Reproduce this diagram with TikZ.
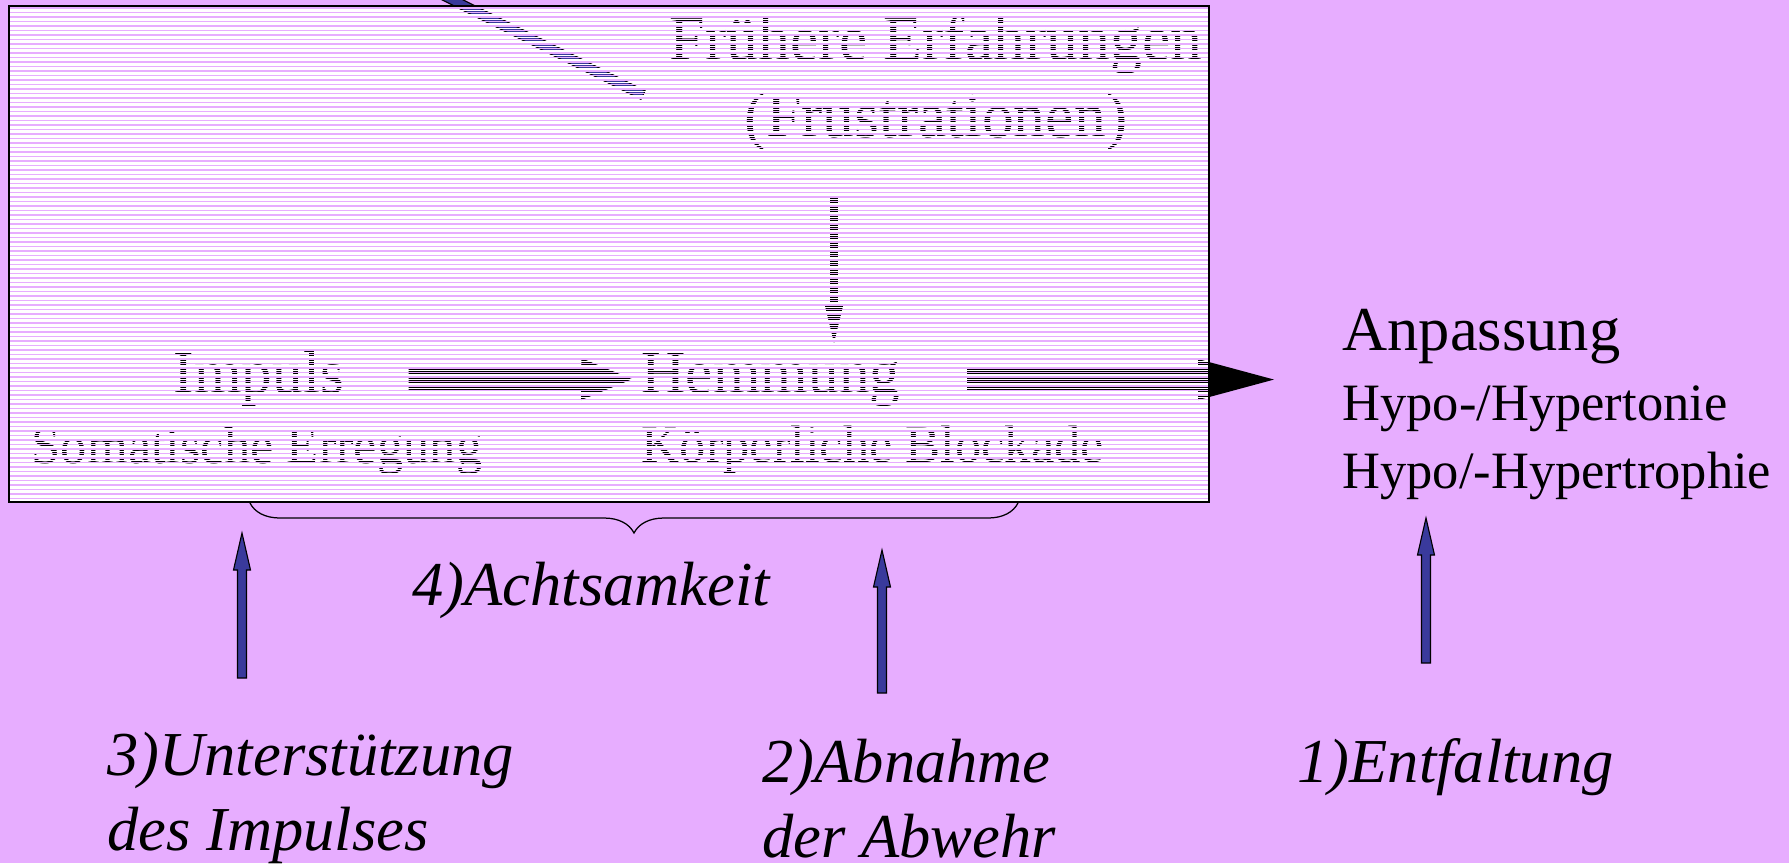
\documentclass[tikz,border=0pt]{standalone}
\usepackage{fontspec}
\setmainfont{Liberation Serif}
\usetikzlibrary{positioning}
\usetikzlibrary{arrows.meta}
\usetikzlibrary{decorations.pathreplacing}

\definecolor{bgpink}{RGB}{231,173,255}
\definecolor{arrowblue}{RGB}{58,58,156}

\tikzset{
    pics/upblue/.style={code={
        \filldraw[fill=arrowblue,draw=black,line width=0.45pt]
            (-4.5,0) -- (-4.5,-#1+37) -- (-8.5,-#1+37) -- (0,-#1)
            -- (8.5,-#1+37) -- (4.5,-#1+37) -- (4.5,0) -- cycle;
    }}
}

\begin{document}
\begin{tikzpicture}[x=0.4pt,y=-0.4pt,
        big/.style={inner sep=0pt,font=\fontsize{24.5}{29}\selectfont},
        small/.style={inner sep=0pt,font=\fontsize{21}{25}\selectfont},
        lbl/.style={inner sep=0pt,align=left,anchor=base west,font=\fontsize{25}{30}\selectfont\itshape},
        side/.style={inner sep=0pt,anchor=base west}]

            \path[use as bounding box,fill=bgpink] (0,0) rectangle (1789,863);
            \clip (0,0) rectangle (1789,863);
            \fill[white] (9,6) rectangle (1209,502);

            \path   (936,60)  node (fre) [big,anchor=base,font=\fontsize{25.5}{30}\selectfont] {Frühere Erfahrungen}
                    (936,137) node (fru) [big,anchor=base,font=\fontsize{25.5}{30}\selectfont] {(Frustrationen)}
                    (259,393) node (imp) [big,anchor=base] {Impuls}
                    (771,393) node (hem) [big,anchor=base] {Hemmung}
                    (257,463) node (som) [small,anchor=base] {Somatische Erregung}
                    (873,462) node (kor) [small,anchor=base] {Körperliche Blockade};

            \path   (1342,350) node (anp) [side,font=\fontsize{25}{30}\selectfont] {Anpassung}
                    (1342,420) node (ton) [side,small] {Hypo-/Hypertonie}
                    (1342,488) node (tro) [side,small] {Hypo/-Hypertrophie};

            \coordinate (d1) at (834,197);
            \coordinate (d2) at (834,343);

            \draw[arrows = -{Triangle[length=20.4pt,width=16.8pt,line width=0pt]},line width=9.2pt,shorten <=25.6pt,shorten >=3.6pt] (node cs: name =imp) -- (node cs: name =hem);
            \draw[arrows = -{Triangle[length=30.4pt,width=16.4pt,line width=0pt]},line width=9.2pt,shorten <=26.4pt,shorten >=27.2pt] (hem.east) -- (hem.east -| anp.west);
            \draw[arrows = -{Triangle[length=14.8pt,width=7.2pt,line width=0pt]},line width=3.2pt] (d1) -- (d2);

            \filldraw[fill=arrowblue,draw=black,line width=0.45pt] (645.1,90.8) -- (640.9,99.2) -- (408.5,-17) -- (412.7,-25.4) -- cycle;

            % stripes over the box
            \begin{scope}
                \clip (9,6) rectangle (1209,502);
                \foreach \k in {0,...,110} {
                    \draw[bgpink,line width=0.6pt] (9,8+4.5*\k) -- (1209,8+4.5*\k);
                    \draw[white,line width=0.6pt] (9,10.25+4.5*\k) -- (1209,10.25+4.5*\k);
                }
            \end{scope}
            \draw[line width=0.7pt] (9,6) rectangle (1209,502);

            \draw[decorate,decoration={brace,mirror,amplitude=12pt},line width=0.5pt] (250,503) -- (1018,503);

            % two-line labels sit on the baseline of their last line
            \path   (412,605)  node (ach) [lbl] {4)Achtsamkeit}
                    (107,850)  node (l3) [lbl] {3)Unterstützung\\des Impulses}
                    (762,857)  node (l2) [lbl] {2)Abnahme\\der Abwehr}
                    (1297,782) node (l1) [lbl] {1)Entfaltung};

            \coordinate (a3) at (242,678);
            \coordinate (a2) at (882,693);
            \coordinate (a1) at (1426,663);
            \pic at (a3) {upblue=145};
            \pic at (a2) {upblue=143};
            \pic at (a1) {upblue=145};

\end{tikzpicture}
\end{document}
